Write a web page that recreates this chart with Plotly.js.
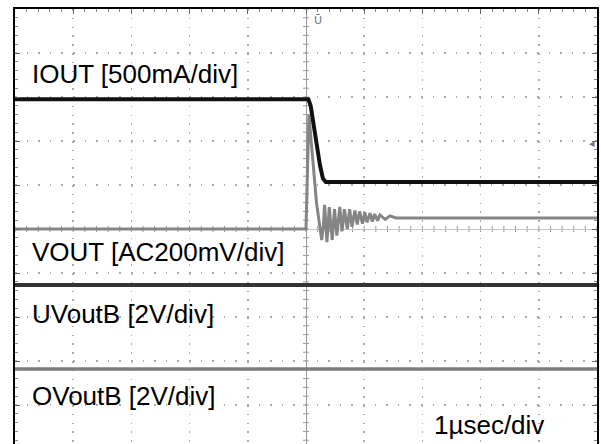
<!DOCTYPE html>
<html>
<head>
<meta charset="utf-8">
<script src="https://cdn.plot.ly/plotly-3.0.1.min.js"></script>
<style>html,body{margin:0;padding:0;background:#fff;}#chart{width:601px;height:444px;}</style>
</head>
<body>
<div id="chart"></div>
<script>
// time axis: microseconds (1 µs/div), vertical axis: screen divisions
const ioutT = [-5, 0.04, 0.08, 0.15, 0.24, 0.29, 0.34, 5];
const ioutV = [2.95, 2.95, 2.8, 2.2, 1.45, 1.15, 1.07, 1.07];

const voutT = [-5, 0.0, 0.05, 0.10, 0.18, 0.27, 0.30, 0.32, 0.36, 0.40, 0.45, 0.49, 0.53, 0.58, 0.62, 0.66, 0.71, 0.75, 0.79, 0.84, 0.88, 0.92, 0.97, 1.01, 1.05, 1.10, 1.14, 1.18, 1.23, 1.27, 1.36, 1.44, 1.55, 5];
const voutV = [0.0, 0.0, 2.6, 1.9, 0.6, -0.25, 0.1, 0.55, -0.3, 0.5, -0.25, 0.45, -0.15, 0.5, -0.05, 0.45, 0.0, 0.45, 0.05, 0.42, 0.1, 0.4, 0.12, 0.38, 0.15, 0.36, 0.17, 0.34, 0.19, 0.32, 0.22, 0.3, 0.25, 0.25];

const uvT = [-5, 5];
const uvV = [-1.27, -1.27];

const ovT = [-5, 5];
const ovV = [-3.18, -3.18];

const labels = ["IOUT [500mA/div]", "VOUT [AC200mV/div]", "UVoutB [2V/div]", "OVoutB [2V/div]", "1µsec/div"];
const labelT = [-4.74, -4.74, -4.74, -4.74, 2.17];
const labelV = [3.52, -0.52, -1.93, -3.80, -4.45];

const markerText = ["Ū", "◂"];
const markerT = [0.2, 4.92];
const markerV = [4.73, 1.95];

const traces = [
  {x: ovT, y: ovV, mode: 'lines', line: {color: '#7d7d7d', width: 3.5}},
  {x: uvT, y: uvV, mode: 'lines', line: {color: '#333333', width: 4}},
  {x: voutT, y: voutV, mode: 'lines', line: {color: '#858585', width: 3}},
  {x: ioutT, y: ioutV, mode: 'lines', line: {color: '#111111', width: 4}}
];

const shapes = [];
for (let i = -25; i <= 25; i++) {
  shapes.push({type: 'line', xref: 'x', yref: 'y', x0: i * 0.2, x1: i * 0.2,
    ysizemode: 'pixel', yanchor: 0, y0: -3, y1: 3, line: {color: '#999', width: 1}, layer: 'below'});
}
for (let j = -24; j <= 25; j++) {
  shapes.push({type: 'line', xref: 'x', yref: 'y', y0: j * 0.2, y1: j * 0.2,
    xsizemode: 'pixel', xanchor: 0, x0: -3, x1: 3, line: {color: '#999', width: 1}, layer: 'below'});
}

const annotations = labels.map((t, k) => ({
  x: labelT[k], y: labelV[k], xref: 'x', yref: 'y', text: t, showarrow: false,
  xanchor: 'left', yanchor: 'middle',
  font: {family: 'Liberation Sans, Arial, sans-serif', size: 26, color: '#000'}
})).concat(markerText.map((t, k) => ({
  x: markerT[k], y: markerV[k], xref: 'x', yref: 'y', text: t, showarrow: false,
  xanchor: 'center', yanchor: 'middle',
  font: {family: 'DejaVu Sans, sans-serif', size: 11, color: '#777'}
})));

const layout = {
  width: 601, height: 444,
  margin: {l: 15, r: 4, t: 9, b: 0, pad: 0},
  paper_bgcolor: '#fff', plot_bgcolor: '#fff',
  showlegend: false,
  xaxis: {
    range: [-5, 5], side: 'top', showline: true, linecolor: '#000', linewidth: 2,
    ticks: 'inside', dtick: 1, tick0: 0, ticklen: 5, tickcolor: '#666', showticklabels: false,
    minor: {dtick: 0.2, ticks: 'inside', ticklen: 3, tickcolor: '#888', showgrid: false},
    showgrid: true, gridcolor: '#aaaaaa', gridwidth: 1.5, griddash: '1.5px,7.3px',
    zeroline: true, zerolinecolor: '#9a9a9a', zerolinewidth: 1, fixedrange: true
  },
  yaxis: {
    range: [-4.886, 5], showline: true, mirror: 'ticks', linecolor: '#000', linewidth: 2,
    ticks: 'inside', dtick: 1, tick0: 0, ticklen: 5, tickcolor: '#666', showticklabels: false,
    minor: {dtick: 0.2, ticks: 'inside', ticklen: 3, tickcolor: '#888', showgrid: false},
    showgrid: true, gridcolor: '#aaaaaa', gridwidth: 1.5, griddash: '1.5px,10.1px',
    zeroline: true, zerolinecolor: '#c4c4c4', zerolinewidth: 1, fixedrange: true
  },
  shapes: shapes,
  annotations: annotations
};

Plotly.newPlot('chart', traces, layout, {displayModeBar: false, staticPlot: true});
</script>
</body>
</html>
